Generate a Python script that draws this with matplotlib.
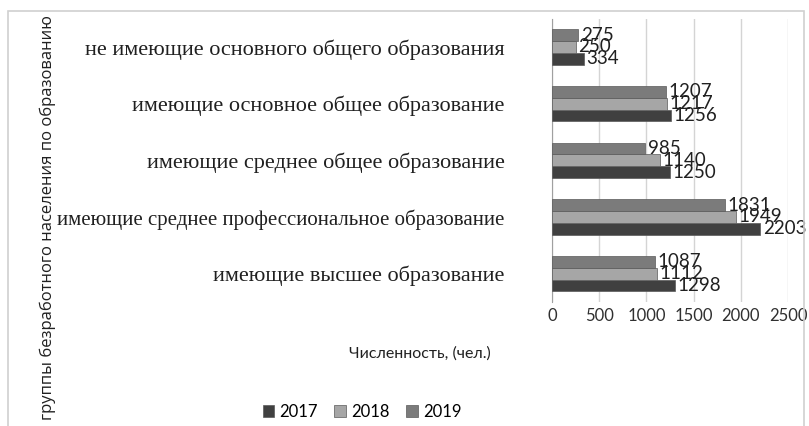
import numpy as np
import matplotlib
matplotlib.use('Agg')
import matplotlib.pyplot as plt
from matplotlib.patches import Rectangle, Patch

categories = [
    'не имеющие основного общего образования',
    'имеющие основное общее образование',
    'имеющие среднее общее образование',
    'имеющие среднее профессиональное образование',
    'имеющие высшее образование',
]
years = ['2017', '2018', '2019']
v2017 = [334, 1256, 1250, 2203, 1298]
v2018 = [250, 1217, 1140, 1949, 1112]
v2019 = [275, 1207, 985, 1831, 1087]
colors = ['#404040', '#a6a6a6', '#7b7b7b']

W, H = 809, 426
fig = plt.figure(figsize=(W / 100, H / 100), dpi=100)
ax = fig.add_axes([552 / W, 1 - 302 / H, (788 - 552) / W, (302 - 18.6) / H])

# outer chart frame
fig.patches.append(Rectangle((8 / W, -0.05), (804 - 8) / W, 1.05 - 11 / H,
                             transform=fig.transFigure, fill=False,
                             edgecolor='#d0d0d0', lw=1.2))

n = len(categories)
y = np.arange(n)
h = 0.625 / 3
series = [v2017, v2018, v2019]
offsets = [h, 0, -h]
for vals, off, col in zip(series, offsets, colors):
    bars = ax.barh(y + off, vals, height=h, color=col, edgecolor='#5a5a5a', lw=0.5, zorder=3)
    for b, v in zip(bars, vals):
        ax.annotate(str(v), (v, b.get_y() + h / 2), xytext=(2, 0),
                    textcoords='offset points', va='center', ha='left',
                    fontsize=13.5, family='Lato', color='#202020', zorder=4)

ax.set_xlim(0, 2500)
ax.set_ylim(n - 0.5, -0.5)
ax.set_xticks(np.arange(0, 2501, 500))
ax.xaxis.grid(True, color='#d4d4d4', lw=1)
ax.set_axisbelow(True)
for s in ['top', 'right', 'bottom']:
    ax.spines[s].set_visible(False)
ax.spines['left'].set_color('#a0a0a0')
ax.tick_params(axis='x', length=0, labelsize=12, pad=4)
for t in ax.get_xticklabels():
    t.set_family('Lato')
    t.set_color('#303030')
ax.set_yticks(y)
ax.set_yticklabels(categories, family='Liberation Serif', fontsize=16, color='#202020')
ax.get_yticklabels()[3].set_fontsize(15)
ax.tick_params(axis='y', length=0, pad=34)

fig.text(420 / W, 1 - 354 / H, 'Численность, (чел.)', ha='center', va='center',
         family='Lato', fontsize=11.5, color='#202020')
fig.text(48 / W, 1 - 420 / H, 'группы безработного населения по образованию', rotation=90,
         ha='center', va='bottom', family='Open Sans', fontsize=12, color='#202020')

handles = [Patch(facecolor=c, edgecolor='#5a5a5a', lw=0.5) for c in colors]
fig.legend(handles, years, loc='center', bbox_to_anchor=(362 / W, 1 - 412 / H), ncol=3,
           frameon=False, prop={'family': 'Lato', 'size': 12}, handlelength=0.7,
           handleheight=0.7, handletextpad=0.3, columnspacing=1.0)

fig.savefig('out.png', dpi=100)
